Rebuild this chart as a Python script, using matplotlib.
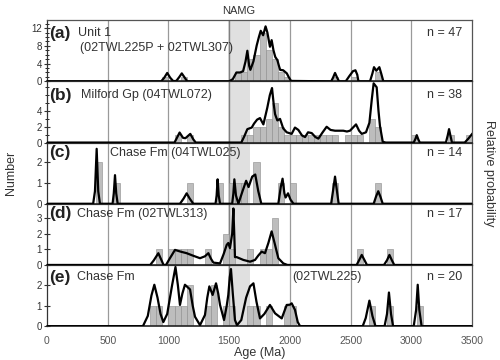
import numpy as np
import matplotlib
matplotlib.use('Agg')
import matplotlib.pyplot as plt
from matplotlib.ticker import MultipleLocator

plt.rcParams['font.family'] = ['Liberation Sans', 'DejaVu Sans']

# ---- data ----
# (a) Unit 1
a_age = [0, 940, 965, 990, 1015, 1040, 1065, 1090, 1110, 1130, 1155, 1500, 1530, 1560,
         1590, 1615, 1635, 1650, 1665, 1675, 1700, 1727, 1745, 1760, 1780, 1800, 1815,
         1836, 1850, 1865, 1880, 1897, 1910, 1920, 1945, 1975, 1990, 2010, 2340, 2355,
         2372, 2390, 2405, 2460, 2490, 2520, 2540, 2555, 2565, 2660, 2680, 2693, 2712,
         2737, 2752, 2770, 3500]
a_prob = [0, 0, 0.8, 1.9, 0.8, 0.05, 0.1, 1.0, 1.8, 1.0, 0, 0, 0.5, 2.0,
          2.0, 2.3, 4.5, 6.9, 3.5, 2.6, 4.5, 8.1, 10.0, 11.4, 10.4, 12.4, 11.0,
          7.8, 9.3, 7.0, 5.5, 4.8, 3.5, 2.6, 2.5, 1.8, 1.0, 0.1, 0, 0.8,
          1.9, 0.8, 0, 0, 1.2, 2.3, 2.5, 1.5, 0, 0, 1.8, 3.2, 2.4,
          3.2, 1.8, 0, 0]
a_bins = [950, 1100, 1550, 1600, 1650, 1700, 1750, 1800, 1850, 1900, 1950, 2350, 2500, 2700]
a_counts = [1, 1, 2, 2, 5, 6, 11, 7, 5, 2, 1, 1, 1, 2]

# (b) Milford Gp
b_age = [0, 1050, 1070, 1092, 1120, 1140, 1180, 1205, 1225, 1600, 1625, 1650, 1686, 1705,
         1730, 1754, 1782, 1814, 1835, 1853, 1866, 1878, 1897, 1919, 1945, 1974, 2015,
         2042, 2070, 2100, 2125, 2150, 2180, 2210, 2235, 2270, 2303, 2335, 2372, 2410,
         2440, 2470, 2495, 2520, 2545, 2570, 2592, 2627, 2655, 2675, 2690, 2715, 2730,
         2742, 2765, 2790, 3020, 3035, 3045, 3058, 3070, 3285, 3300, 3311, 3322, 3335,
         3440, 3470, 3500]
b_prob = [0, 0, 0.6, 1.27, 0.6, 0.55, 1.1, 0.4, 0, 0, 0.8, 1.7, 1.9, 2.4,
          2.9, 3.1, 2.3, 4.4, 6.0, 6.9, 5.0, 3.6, 2.8, 3.0, 1.8, 1.3, 1.1,
          1.9, 1.6, 0.9, 0.7, 1.3, 1.2, 0.7, 0.5, 1.3, 2.0, 1.6, 1.5, 1.5,
          1.5, 1.4, 1.5, 1.9, 2.3, 1.5, 1.1, 1.3, 2.5, 5.5, 7.5, 7.0, 4.0,
          2.1, 0.1, 0, 0, 0.5, 0.94, 0.4, 0, 0, 0.9, 1.7, 0.9, 0,
          0, 0.5, 1.07]
b_bins = [1050, 1150, 1600, 1650, 1700, 1750, 1800, 1850, 1900, 1950, 2000, 2050, 2100,
          2150, 2200, 2250, 2300, 2350, 2450, 2500, 2550, 2650, 2700, 3000, 3300, 3450]
b_counts = [1, 1, 1, 1, 2, 2, 3, 5, 2, 1, 1, 1, 1,
            1, 1, 1, 1, 1, 1, 1, 1, 3, 2, 1, 1, 1]

# (c) Chase Fm 04TWL025
c_age = [0, 380, 395, 409, 422, 436, 540, 550, 560, 570, 582, 1095, 1125, 1150, 1175, 1205,
         1388, 1397, 1405, 1414, 1425, 1525, 1535, 1543, 1556, 1576, 1610, 1640, 1660,
         1690, 1715, 1740, 1765, 1905, 1925, 1940, 1955, 1965, 1985, 2005, 2030, 2340,
         2355, 2372, 2388, 2402, 2690, 2710, 2728, 2745, 2765, 3500]
c_prob = [0, 0, 0.6, 2.63, 0.6, 0, 0, 0.5, 1.37, 0.5, 0, 0, 0.25, 0.5, 0.25, 0,
          0, 0.4, 1.17, 0.4, 0, 0, 0.5, 1.17, 0.4, 0, 0.6, 1.1, 0.8,
          1.3, 1.4, 0.6, 0, 0, 0.8, 1.2, 0.5, 0.3, 0.5, 0.2, 0, 0,
          0.6, 1.3, 0.6, 0, 0, 0.35, 0.6, 0.35, 0, 0]
c_bins = [400, 550, 1150, 1400, 1500, 1550, 1600, 1700, 1900, 2000, 2350, 2700]
c_counts = [2, 1, 1, 1, 1, 1, 1, 2, 1, 1, 1, 1]

# (d) Chase Fm 02TWL313
d_age = [0, 850, 880, 917, 940, 960, 980, 1010, 1054, 1100, 1150, 1200, 1260, 1300, 1329,
         1350, 1370, 1425, 1455, 1480, 1493, 1507, 1525, 1535, 1542, 1548, 1562, 1617,
         1672, 1713, 1740, 1768, 1795, 1823, 1850, 1878, 1905, 1946, 1980, 2550, 2570,
         2592, 2615, 2635, 2775, 2800, 2820, 2840, 2860, 3500]
d_prob = [0, 0, 0.3, 0.75, 0.35, 0, 0, 0.4, 0.96, 0.85, 0.75, 0.6, 0.43, 0.55, 0.75,
          0.4, 0.15, 0.1, 0.7, 1.28, 1.4, 1.07, 2.0, 3.6, 2.0, 0.5, 0.5, 0.32,
          0.21, 0.32, 0.6, 0.85, 0.75, 1.4, 2.14, 1.28, 0.43, 0.1, 0, 0, 0.3,
          0.64, 0.3, 0, 0, 0.3, 0.64, 0.3, 0, 0]
d_bins = [900, 1000, 1050, 1100, 1150, 1300, 1450, 1500, 1650, 1750, 1800, 1850, 2550, 2800]
d_counts = [1, 1, 1, 1, 1, 1, 2, 1, 1, 1, 1, 3, 1, 1]

# (e) Chase Fm 02TWL225
e_age = [0, 790, 830, 860, 884, 910, 935, 958, 990, 1030, 1058, 1078, 1095, 1115, 1136,
         1160, 1178, 1200, 1219, 1260, 1301, 1320, 1337, 1364, 1392, 1410, 1425, 1458,
         1480, 1493, 1505, 1515, 1530, 1548, 1565, 1600, 1640, 1672, 1700, 1725, 1754,
         1790, 1836, 1878, 1933, 1974, 2000, 2015, 2042, 2065, 2084, 2600, 2625, 2655,
         2680, 2705, 2780, 2800, 2816, 2833, 2850, 3020, 3040, 3053, 3066, 3085, 3500]
e_prob = [0, 0, 0.5, 1.5, 2.03, 1.4, 0.6, 0.2, 0.6, 2.0, 2.9, 2.0, 1.04, 1.6, 2.03,
          1.9, 1.8, 1.0, 0.46, 0.05, 0.55, 1.4, 1.95, 1.53, 2.1, 1.6, 1.04, 0.3,
          1.0, 1.53, 2.4, 2.8, 1.6, 0.3, 0.05, 0.3, 1.4, 1.95, 2.1, 1.2, 0.38,
          0.6, 1.04, 0.63, 0.38, 1.04, 1.05, 1.12, 0.8, 0.2, 0, 0, 0.4, 1.25,
          0.5, 0, 0, 0.6, 1.65, 0.6, 0, 0, 0.8, 2.03, 0.8, 0, 0]
e_bins = [850, 900, 1000, 1050, 1100, 1150, 1300, 1350, 1450, 1500, 1650, 1700, 1800,
          1950, 2000, 2650, 2800, 3050]
e_counts = [1, 1, 1, 1, 1, 2, 1, 2, 1, 1, 1, 1, 1, 1, 1, 1, 1, 1]

letters = ['(a)', '(b)', '(c)', '(d)', '(e)']
titles = ['Unit 1', 'Milford Gp (04TWL072)', 'Chase Fm (04TWL025)',
          'Chase Fm (02TWL313)', 'Chase Fm']
n_labels = ['n = 47', 'n = 38', 'n = 14', 'n = 17', 'n = 20']
ymax = [13.8, 7.75, 2.93, 3.9, 3.0]
yticks = [[0, 4, 8, 12], [0, 2, 4], [0, 1, 2], [0, 1, 2, 3], [0, 1, 2]]
namg = (1490, 1670)

panels = [
    (a_age, a_prob, a_bins, a_counts),
    (b_age, b_prob, b_bins, b_counts),
    (c_age, c_prob, c_bins, c_counts),
    (d_age, d_prob, d_bins, d_counts),
    (e_age, e_prob, e_bins, e_counts),
]

fig, axes = plt.subplots(5, 1, figsize=(5, 3.6), dpi=100, sharex=True)
fig.subplots_adjust(left=0.094, right=0.944, top=0.944, bottom=0.094, hspace=0)

for i, ax in enumerate(axes):
    age, prob, bins, counts = panels[i]
    ax.axvspan(namg[0], namg[1], color='#e0e0e0', lw=0, zorder=0)
    for g in [500, 1000, 2000, 2500, 3000]:
        ax.axvline(g, color='#9a9a9a', lw=0.9, zorder=1)
    ax.axvline(1500, color='#808080', lw=1.0, zorder=1)
    ax.bar(bins, counts, width=50, align='edge', color='#bdbdbd',
           edgecolor='#8c8c8c', lw=0.4, zorder=2)
    ax.plot(age, prob, color='black', lw=1.6, zorder=3, solid_joinstyle='round')
    ax.set_xlim(0, 3500)
    ax.set_ylim(0, ymax[i])
    ax.set_yticks(yticks[i])
    if i < 2:
        ax.yaxis.set_minor_locator(MultipleLocator(1))
    ax.tick_params(axis='y', direction='inout', length=5, width=0.8, labelsize=7,
                   colors='#333333', pad=1)
    ax.tick_params(axis='y', which='minor', direction='inout', length=3, width=0.6)
    ax.tick_params(axis='x', length=0, labelsize=7.5, colors='#555555', pad=7)
    for side in ['top', 'right', 'bottom', 'left']:
        ax.spines[side].set_color('#555555')
        ax.spines[side].set_linewidth(0.9)
    ax.spines['left'].set_color('#333333')
    ax.spines['bottom'].set_color('#222222')
    ax.spines['bottom'].set_linewidth(1.2)
    ax.set_zorder(5 - i)
    ax.patch.set_visible(False)

# panel labels
label_y = [0.79, 0.77, 0.83, 0.84, 0.80]
title_x = [0.072, 0.08, 0.148, 0.07, 0.07]
for i, ax in enumerate(axes):
    ax.text(0.006, label_y[i], letters[i], transform=ax.transAxes, fontsize=12.5,
            fontweight='bold', va='center', ha='left', color='#222222', zorder=6)
    ax.text(title_x[i], label_y[i], titles[i], transform=ax.transAxes, fontsize=9,
            va='center', ha='left', color='#333333', zorder=6)
    ax.text(0.976, label_y[i], n_labels[i], transform=ax.transAxes, fontsize=9,
            va='center', ha='right', color='#333333', zorder=6)

axes[0].text(0.078, 0.54, '(02TWL225P + 02TWL307)', transform=axes[0].transAxes,
             fontsize=9, va='center', color='#333333')
axes[4].text(0.578, 0.80, '(02TWL225)', transform=axes[4].transAxes, fontsize=9,
             va='center', color='#333333')

axes[4].set_xticks(np.arange(0, 3501, 500))
axes[4].set_xlabel('Age (Ma)', fontsize=9, color='#333333', labelpad=1)

axes[0].text(sum(namg) / 2, 1.06, 'NAMG', transform=axes[0].get_xaxis_transform(),
             ha='center', va='bottom', fontsize=8, color='#333333')

fig.text(0.022, 0.52, 'Number', rotation=90, ha='center', va='center', fontsize=9,
         color='#333333')
fig.text(0.978, 0.52, 'Relative probability', rotation=270, ha='center', va='center',
         fontsize=9, color='#333333')

fig.savefig('out.png', dpi=100)
